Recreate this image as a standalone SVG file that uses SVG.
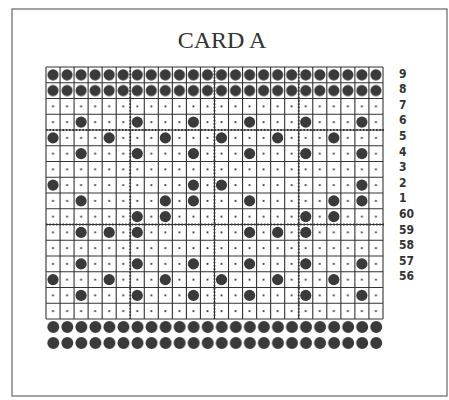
<svg xmlns="http://www.w3.org/2000/svg" xmlns:xlink="http://www.w3.org/1999/xlink" width="449" height="400" viewBox="0 0 449 400">
<style>
.card{fill:none;stroke:#666;stroke-width:1.2}
.title{font-family:"Liberation Serif","Times New Roman",serif;font-size:24px;fill:#333;text-anchor:middle}
.grid{fill:none;stroke:#333;stroke-width:1.1}
.dotline{fill:none;stroke:#333;stroke-width:1.8;stroke-dasharray:1.6 1.7}
.punch{fill:#3a3a3a}
.lbl{font-family:"DejaVu Sans Condensed","Liberation Sans Narrow","DejaVu Sans",sans-serif;font-weight:bold;font-size:12px;fill:#333}
</style>
<defs>
<circle id="p" class="punch" r="5.6"/>
<pattern id="dots" patternUnits="userSpaceOnUse" x="46" y="67" width="14.04" height="15.75">
<circle cx="7.02" cy="7.875" r="1.1" fill="#333"/>
</pattern>
<pattern id="fullrow" patternUnits="userSpaceOnUse" x="46" y="67" width="14.04" height="15.75">
<circle cx="7.02" cy="7.875" r="5.6" fill="#3a3a3a"/>
</pattern>
<pattern id="feed" patternUnits="userSpaceOnUse" x="46" y="319" width="14.04" height="16">
<circle cx="7.3" cy="8" r="6" fill="#3a3a3a"/>
</pattern>
</defs>
<rect width="449" height="400" fill="#fff"/>
<rect id="card" class="card" x="12" y="9" width="435" height="387"/>
<text id="title" class="title" x="222" y="48">CARD A</text>

<g id="grid">
<rect x="46" y="98.5" width="337" height="220.5" fill="url(#dots)"/>
<rect x="46" y="67" width="337" height="31.5" fill="url(#fullrow)"/>
<path class="grid" d="M46 67V319M60.04 67V319M74.08 67V319M88.12 67V319M102.16 67V319M116.2 67V319M130.24 67V319M144.28 67V319M158.32 67V319M172.36 67V319M186.4 67V319M200.44 67V319M214.48 67V319M228.52 67V319M242.56 67V319M256.6 67V319M270.64 67V319M284.68 67V319M298.72 67V319M312.76 67V319M326.8 67V319M340.84 67V319M354.88 67V319M368.92 67V319M383 67V319M46 67H383M46 82.75H383M46 98.5H383M46 114.25H383M46 130H383M46 145.75H383M46 161.5H383M46 177.25H383M46 193H383M46 208.75H383M46 224.5H383M46 240.25H383M46 256H383M46 271.75H383M46 287.5H383M46 303.25H383M46 319H383"/>
</g>

<g id="punches">
<!-- row 6 -->
<use href="#p" x="81.1" y="122.1"/><use href="#p" x="137.26" y="122.1"/><use href="#p" x="193.42" y="122.1"/><use href="#p" x="249.58" y="122.1"/><use href="#p" x="305.74" y="122.1"/><use href="#p" x="361.9" y="122.1"/>
<!-- row 5 -->
<use href="#p" x="53.02" y="137.9"/><use href="#p" x="109.18" y="137.9"/><use href="#p" x="165.34" y="137.9"/><use href="#p" x="221.5" y="137.9"/><use href="#p" x="277.66" y="137.9"/><use href="#p" x="333.82" y="137.9"/>
<!-- row 4 -->
<use href="#p" x="81.1" y="153.6"/><use href="#p" x="137.26" y="153.6"/><use href="#p" x="193.42" y="153.6"/><use href="#p" x="249.58" y="153.6"/><use href="#p" x="305.74" y="153.6"/><use href="#p" x="361.9" y="153.6"/>
<!-- row 2 -->
<use href="#p" x="53.02" y="185.1"/><use href="#p" x="193.42" y="185.1"/><use href="#p" x="221.5" y="185.1"/><use href="#p" x="361.9" y="185.1"/>
<!-- row 1 -->
<use href="#p" x="81.1" y="200.9"/><use href="#p" x="165.34" y="200.9"/><use href="#p" x="193.42" y="200.9"/><use href="#p" x="249.58" y="200.9"/><use href="#p" x="333.82" y="200.9"/><use href="#p" x="361.9" y="200.9"/>
<!-- row 60 -->
<use href="#p" x="137.26" y="216.6"/><use href="#p" x="165.34" y="216.6"/><use href="#p" x="305.74" y="216.6"/><use href="#p" x="333.82" y="216.6"/>
<!-- row 59 -->
<use href="#p" x="81.1" y="232.4"/><use href="#p" x="109.18" y="232.4"/><use href="#p" x="137.26" y="232.4"/><use href="#p" x="249.58" y="232.4"/><use href="#p" x="277.66" y="232.4"/><use href="#p" x="305.74" y="232.4"/>
<!-- row 57 -->
<use href="#p" x="81.1" y="263.9"/><use href="#p" x="137.26" y="263.9"/><use href="#p" x="193.42" y="263.9"/><use href="#p" x="249.58" y="263.9"/><use href="#p" x="305.74" y="263.9"/><use href="#p" x="361.9" y="263.9"/>
<!-- row 56 -->
<use href="#p" x="53.02" y="279.6"/><use href="#p" x="109.18" y="279.6"/><use href="#p" x="165.34" y="279.6"/><use href="#p" x="221.5" y="279.6"/><use href="#p" x="277.66" y="279.6"/><use href="#p" x="333.82" y="279.6"/>
<!-- row 55 -->
<use href="#p" x="81.1" y="295.4"/><use href="#p" x="137.26" y="295.4"/><use href="#p" x="193.42" y="295.4"/><use href="#p" x="249.58" y="295.4"/><use href="#p" x="305.74" y="295.4"/><use href="#p" x="361.9" y="295.4"/>
</g>

<g id="dotted-lines">
<path class="dotline" d="M130.24 67V319M214.48 67V319M298.72 67V319M46 130H384M46 224.5H384"/>
</g>

<g id="feed-holes">
<rect x="46" y="319" width="337" height="32" fill="url(#feed)"/>
</g>

<g id="labels">
<text class="lbl" x="399" y="77.5">9</text>
<text class="lbl" x="399" y="93.1">8</text>
<text class="lbl" x="399" y="108.7">7</text>
<text class="lbl" x="399" y="124.3">6</text>
<text class="lbl" x="399" y="139.9">5</text>
<text class="lbl" x="399" y="155.5">4</text>
<text class="lbl" x="399" y="171.1">3</text>
<text class="lbl" x="399" y="186.7">2</text>
<text class="lbl" x="399" y="202.3">1</text>
<text class="lbl" x="399" y="217.9">60</text>
<text class="lbl" x="399" y="233.5">59</text>
<text class="lbl" x="399" y="249.1">58</text>
<text class="lbl" x="399" y="264.7">57</text>
<text class="lbl" x="399" y="280.3">56</text>
</g>
</svg>
